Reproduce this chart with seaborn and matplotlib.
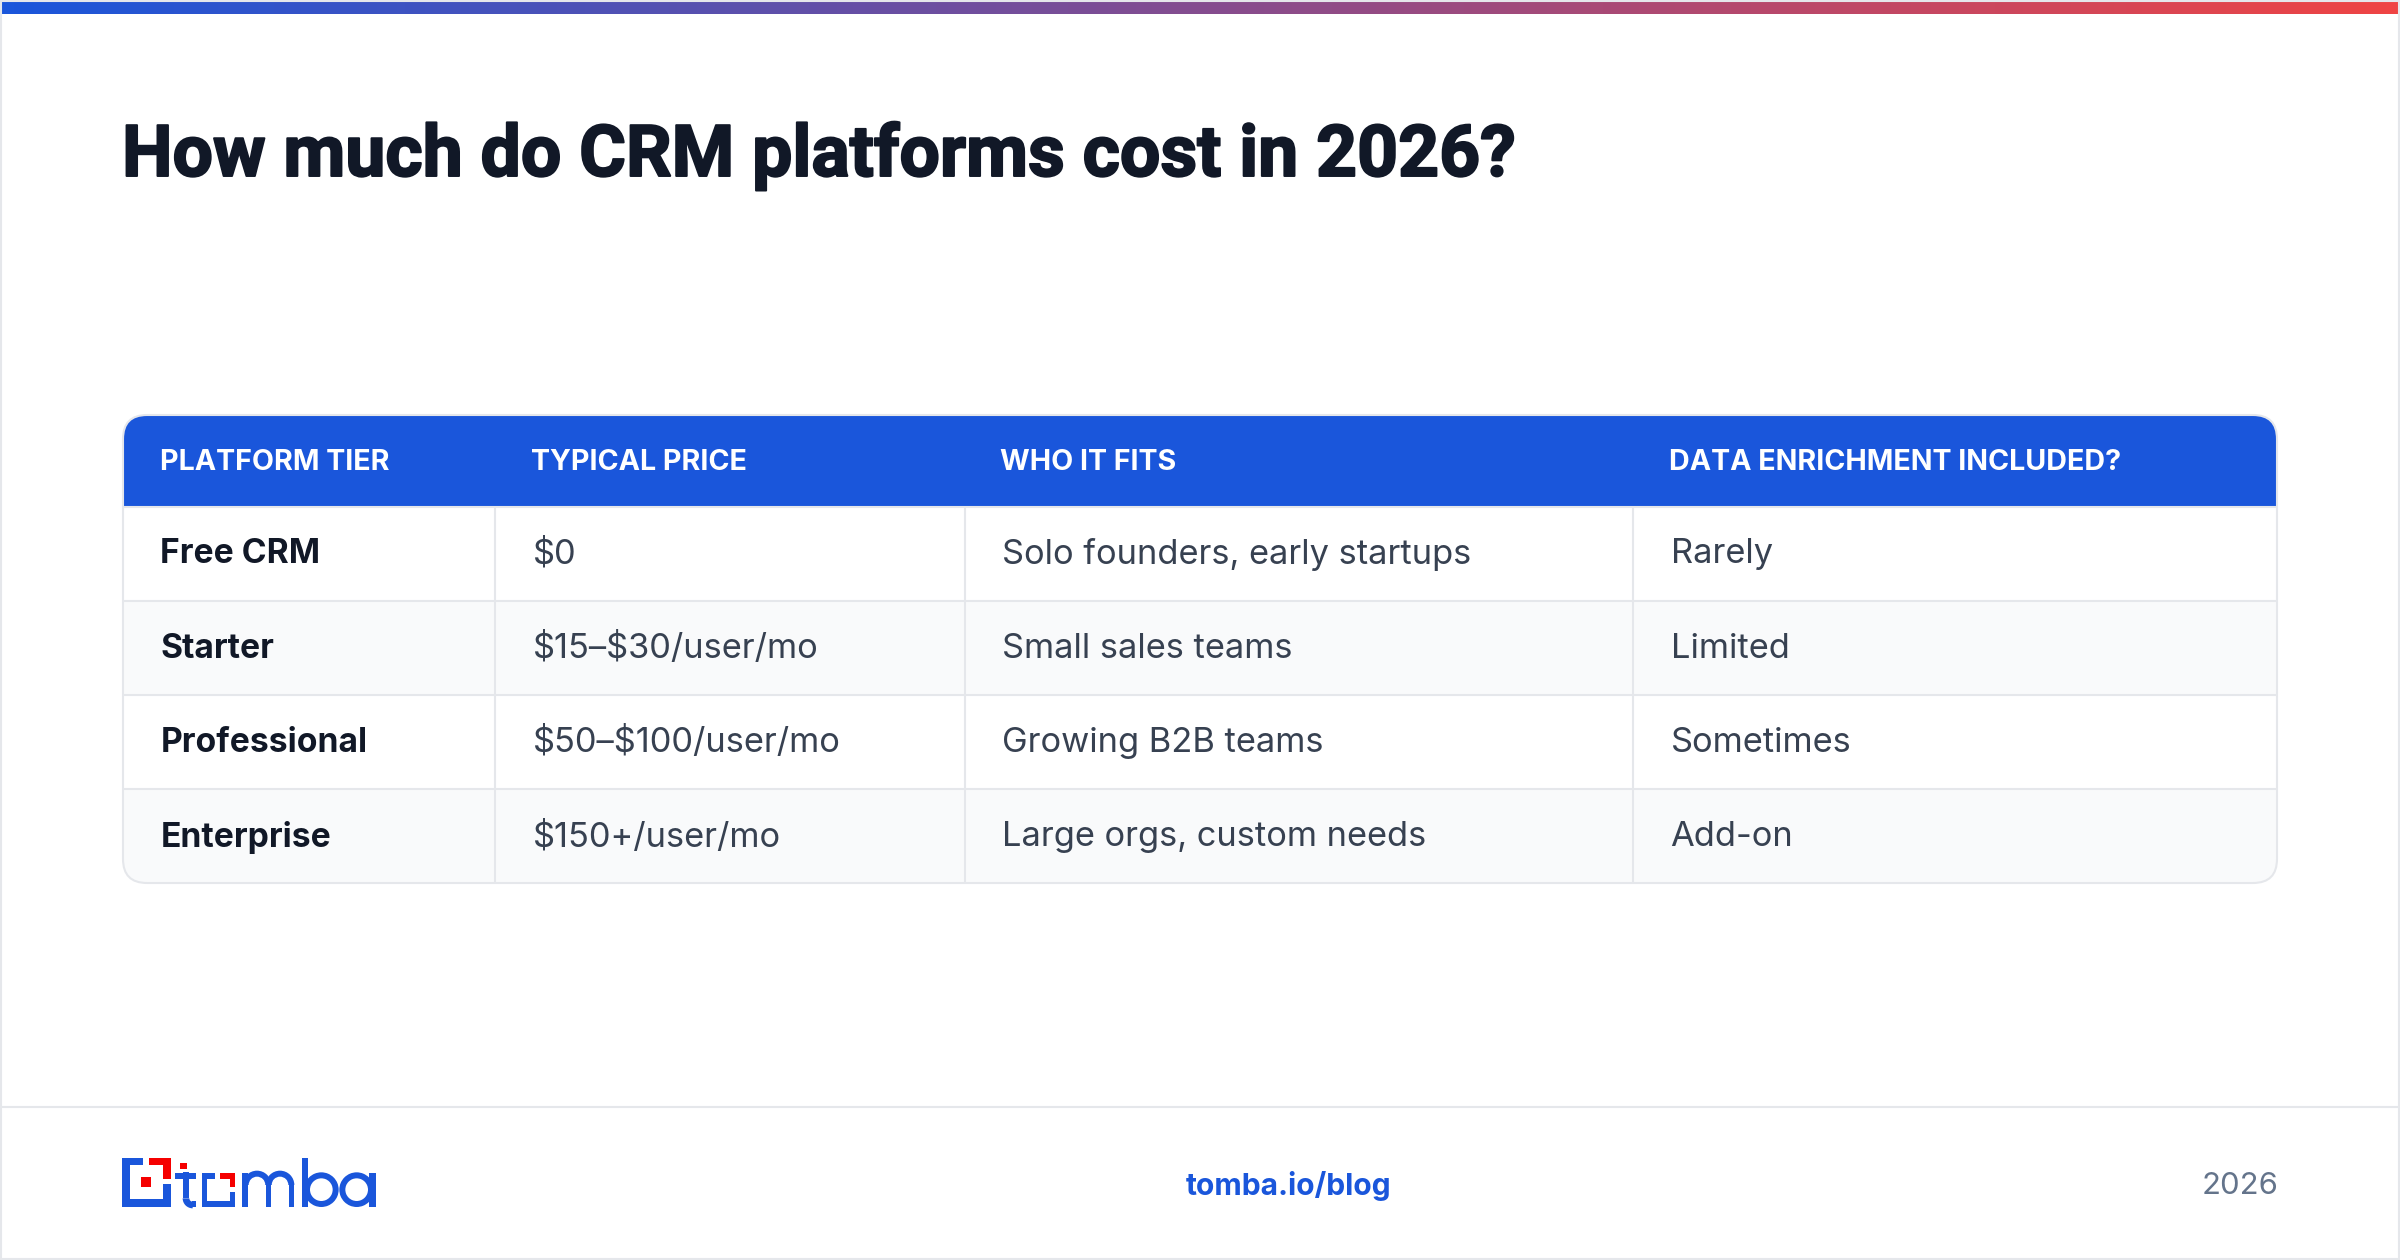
import numpy as np
import pandas as pd
import seaborn as sns
import matplotlib.pyplot as plt
import matplotlib.patheffects as pe
from matplotlib.colors import LinearSegmentedColormap, ListedColormap
from matplotlib.patches import FancyBboxPatch, Rectangle, Wedge

# table content
title = "How much do CRM platforms cost in 2026?"
headers = ["PLATFORM TIER", "TYPICAL PRICE", "WHO IT FITS", "DATA ENRICHMENT INCLUDED?"]
tiers = ["Free CRM", "Starter", "Professional", "Enterprise"]
prices = ["$0", "$15–$30/user/mo", "$50–$100/user/mo", "$150+/user/mo"]
fits = ["Solo founders, early startups", "Small sales teams", "Growing B2B teams", "Large orgs, custom needs"]
enrichment = ["Rarely", "Limited", "Sometimes", "Add-on"]
stripes = [0, 1, 0, 1]

BLUE = "#1a56db"
LINE = "#e5e7eb"
W, H = 2400, 1260
col_edges = [123, 495, 965, 1633, 2277]
head_offsets = [37, 36, 35, 36]
top, head_bottom, bottom = 415, 506, 883

sns.set_theme(style="white")
plt.rcParams["font.family"] = ["Inter", "DejaVu Sans"]

fig = plt.figure(figsize=(12, 6.3), dpi=200, facecolor="white")

# overlay in pixel coordinates
ov = fig.add_axes([0, 0, 1, 1], zorder=5)
ov.set_xlim(0, W)
ov.set_ylim(H, 0)
ov.axis("off")

clip = FancyBboxPatch((123, top), 2154, bottom - top, boxstyle="round,pad=0,rounding_size=24",
                      fc="none", ec=LINE, lw=0.75, zorder=6)
ov.add_patch(clip)

# one heatmap per column, because the widths differ
cmap = ListedColormap(["#ffffff", "#f9fafb"])
df = pd.DataFrame({"tier": tiers, "price": prices, "fits": fits, "enrichment": enrichment})
for i, col in enumerate(df.columns):
    x0, x1 = col_edges[i], col_edges[i + 1]
    ax = fig.add_axes([x0 / W, 1 - bottom / H, (x1 - x0) / W, (bottom - head_bottom) / H], zorder=1)
    sns.heatmap(np.array(stripes)[:, None], ax=ax, cbar=False, cmap=cmap, vmin=0, vmax=1,
                xticklabels=False, yticklabels=False,
                annot=df[[col]].values, fmt="",
                annot_kws={"fontsize": 12.1 if i == 0 else 12.4, "color": "#111827" if i == 0 else "#374151",
                           "fontweight": "bold" if i == 0 else "normal"})
    ax.collections[0].set_clip_path(clip)
    for t in ax.texts:
        t.set_parse_math(False)
        t.set_ha("left")
        t.set_x(37.5 / (x1 - x0))
        t.set_y(t.get_position()[1] + 0.014)
    ov.text(x0 + head_offsets[i], (top + head_bottom) / 2 + 2, headers[i], color="white",
            fontsize=10.32, fontweight="bold", ha="left", va="center")

# header band and grid lines
head = Rectangle((123, top), 2154, head_bottom - top, fc=BLUE, ec="none", zorder=1)
ov.add_patch(head)
head.set_clip_path(clip)
for y in [507, 601, 695, 789]:
    ov.plot([123, 2277], [y, y], color=LINE, lw=0.75, zorder=2, solid_capstyle="butt")
for x in col_edges[1:-1]:
    ov.plot([x, x], [head_bottom, bottom], color=LINE, lw=0.75, zorder=2, solid_capstyle="butt")

# page frame and gradient bar
grad = LinearSegmentedColormap.from_list("bar", [BLUE, "#ef4444"])
ov.imshow(np.linspace(0, 1, 600)[None, :], cmap=grad, extent=(2, W - 2, 14, 2), aspect="auto", zorder=3)
ov.set_xlim(0, W)
ov.set_ylim(H, 0)
ov.add_patch(Rectangle((1, 1), W - 2, H - 2, fc="none", ec=LINE, lw=0.75, zorder=4))
ov.plot([0, W], [1107, 1107], color=LINE, lw=0.75)

# the reference title is heavier than any installed bold, so a thin stroke thickens it
ov.text(122, 156, title, fontsize=25.75, family="Roboto", fontweight="bold", color="#111827", ha="left", va="center",
        parse_math=False, path_effects=[pe.withStroke(linewidth=0.7, foreground="#111827")])
ov.text(1289, 1186, "tomba.io/blog", fontsize=10.8, fontweight="bold", color=BLUE, ha="center", va="center")
ov.text(2279, 1186, "2026", fontsize=11.2, color="#64748b", ha="right", va="center")


# logo, measured on a 3x crop
def zx(v):
    return 100 + v / 3


def zy(v):
    return 1120 + v / 3


def box(x0, y0, x1, y1, c=BLUE):
    ov.add_patch(Rectangle((zx(x0), zy(y0)), (x1 - x0) / 3, (y1 - y0) / 3, fc=c, ec="none"))


RED = "#f50000"
box(66, 113, 130, 135)
box(66, 113, 90, 260)
box(66, 238, 212, 260)
box(188, 193, 212, 260)
box(146, 113, 212, 135, RED)
box(188, 113, 212, 177, RED)
box(124, 172, 153, 200, RED)
box(241, 129, 262, 148, RED)
# t
box(226, 158, 288, 176)
box(248, 155, 268, 235)
ov.add_patch(Wedge((zx(278), zy(235)), 30 / 3, 90, 180, width=20 / 3, fc=BLUE, ec="none"))
box(276, 243, 288, 260)
# square o
box(306, 158, 345, 176)
box(306, 158, 322, 260)
box(306, 243, 406, 260)
box(390, 215, 406, 260)
box(361, 158, 406, 176, RED)
box(390, 158, 406, 200, RED)
# m
box(427, 158, 445, 260)
box(497, 195, 514, 260)
box(566, 195, 583, 260)
ov.add_patch(Wedge((zx(471), zy(195)), 43 / 3, 180, 360, width=18 / 3, fc=BLUE, ec="none"))
ov.add_patch(Wedge((zx(540), zy(195)), 43 / 3, 180, 360, width=18 / 3, fc=BLUE, ec="none"))
# b
box(606, 113, 625, 260)
ov.add_patch(Wedge((zx(664), zy(209)), 52 / 3, 0, 360, width=18 / 3, fc=BLUE, ec="none"))
# a
ov.add_patch(Wedge((zx(770), zy(209)), 52 / 3, 0, 360, width=18 / 3, fc=BLUE, ec="none"))
box(808, 158, 827, 260)

fig.savefig("out.png", dpi=200, facecolor="white")
